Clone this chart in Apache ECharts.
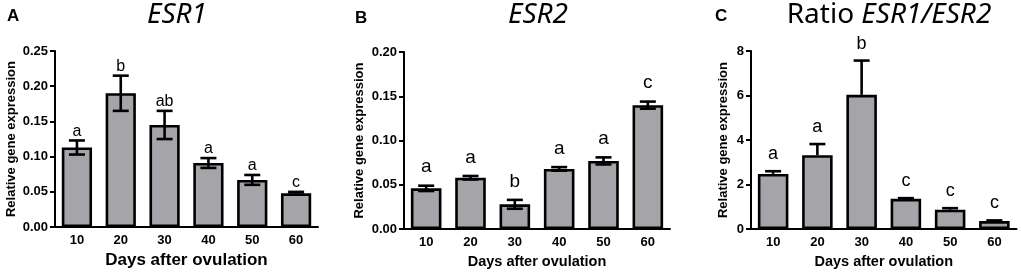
<!DOCTYPE html>
<html>
<head>
<meta charset="utf-8">
<script src="https://cdn.jsdelivr.net/npm/echarts@6/dist/echarts.min.js"></script>
<style>
  html, body { margin: 0; padding: 0; background: #ffffff; }
  #chart { width: 1021px; height: 274px; }
</style>
</head>
<body>
<div id="chart"></div>
<script>
// ---- data ----
var days = ['10', '20', '30', '40', '50', '60'];

var esr1Mean = [0.113, 0.190, 0.145, 0.091, 0.067, 0.048];
var esr1Sem  = [0.010, 0.025, 0.020, 0.007, 0.007, 0.002];
var esr1Letters = ['a', 'b', 'ab', 'a', 'a', 'c'];

var esr2Mean = [0.046, 0.058, 0.028, 0.068, 0.077, 0.140];
var esr2Sem  = [0.003, 0.002, 0.005, 0.002, 0.004, 0.004];
var esr2Letters = ['a', 'a', 'b', 'a', 'a', 'c'];

var ratioMean = [2.48, 3.32, 6.03, 1.36, 0.87, 0.36];
var ratioSem  = [0.12, 0.50, 1.54, 0.03, 0.07, 0.03];
var ratioLetters = ['a', 'a', 'b', 'c', 'c', 'c'];

var yMax = [0.25, 0.20, 8];
var yStep = [0.05, 0.05, 2];

// ---- chart ----
var chart = echarts.init(document.getElementById('chart'), null, { renderer: 'canvas' });

var grids = [
  { left: 55,  top: 51, width: 263, height: 176.5 },
  { left: 404, top: 52, width: 266, height: 178 },
  { left: 751, top: 51, width: 265.5, height: 178.3 }
];
var nameGaps = [37, 38, 21];
var xNameSize = [17, 14.5, 14.5];
var letterGap = [1, 9, 8];
var letterSize = [16, 19, 18];
var upperOnly = [false, false, true];
var decimals = [2, 2, 0];

var means = [esr1Mean, esr2Mean, ratioMean];
var sems = [esr1Sem, esr2Sem, ratioSem];
var letters = [esr1Letters, esr2Letters, ratioLetters];

var FONT = 'Liberation Sans, Arial, sans-serif';
var TFONT = 'Noto Sans, Open Sans, sans-serif';

function errRender(p) {
  return function (params, api) {
    var i = api.value(0);
    var m = api.value(1);
    var s = api.value(2);
    var top = api.coord([i, m + s]);
    var bot = api.coord([i, upperOnly[p] ? m : m - s]);
    var half = 8;
    var st = { stroke: '#000', lineWidth: 2.6 };
    var children = [
      { type: 'line', shape: { x1: top[0], y1: top[1], x2: bot[0], y2: bot[1] }, style: st },
      { type: 'line', shape: { x1: top[0] - half, y1: top[1], x2: top[0] + half, y2: top[1] }, style: st }
    ];
    if (!upperOnly[p]) {
      children.push({ type: 'line', shape: { x1: bot[0] - half, y1: bot[1], x2: bot[0] + half, y2: bot[1] }, style: st });
    }
    children.push({
      type: 'text',
      style: {
        text: letters[p][params.dataIndex],
        x: top[0], y: top[1] - letterGap[p],
        align: 'center', verticalAlign: 'bottom',
        fill: '#000', font: letterSize[p] + 'px ' + FONT
      }
    });
    return { type: 'group', children: children };
  };
}

var xAxes = [], yAxes = [], series = [];
for (var p = 0; p < 3; p++) {
  xAxes.push({
    type: 'category', gridIndex: p, data: days,
    name: 'Days after ovulation', nameLocation: 'middle', nameGap: 22,
    nameTextStyle: { fontFamily: FONT, fontSize: xNameSize[p], fontWeight: 'bold', color: '#000' },
    axisLine: { lineStyle: { color: '#000', width: 2 } },
    axisTick: { alignWithLabel: true, length: 5, lineStyle: { color: '#000', width: 2 } },
    axisLabel: { color: '#000', fontFamily: FONT, fontWeight: 'bold', fontSize: 13, margin: 7 }
  });
  (function (p) {
    yAxes.push({
      type: 'value', gridIndex: p, min: 0, max: yMax[p], interval: yStep[p],
      name: 'Relative gene expression', nameLocation: 'middle', nameGap: nameGaps[p],
      nameTextStyle: { fontFamily: FONT, fontSize: 13, fontWeight: 'bold', color: '#000' },
      axisLine: { show: true, lineStyle: { color: '#000', width: 2 } },
      axisTick: { show: true, length: 5, lineStyle: { color: '#000', width: 2 } },
      splitLine: { show: false },
      axisLabel: {
        color: '#000', fontFamily: FONT, fontWeight: 'bold', fontSize: 13, margin: 7,
        formatter: function (v) { return v.toFixed(decimals[p]); }
      }
    });
  })(p);
  series.push({
    type: 'bar', xAxisIndex: p, yAxisIndex: p, data: means[p],
    barCategoryGap: '31%',
    itemStyle: { color: '#a5a5a9', borderColor: '#000', borderWidth: 2.6 },
    silent: true, animation: false
  });
  series.push({
    type: 'custom', xAxisIndex: p, yAxisIndex: p,
    data: means[p].map(function (m, i) { return [i, m, sems[p][i]]; }),
    encode: { x: 0, y: 1 },
    renderItem: errRender(p), z: 5, silent: true, animation: false
  });
}

function panelStyle() { return { fontFamily: FONT, fontWeight: 'bold', fontSize: 17, color: '#000' }; }
var titles = [
  { text: 'A', left: 2, top: 3, textStyle: panelStyle() },
  { text: 'B', left: 350, top: 5, textStyle: panelStyle() },
  { text: 'C', left: 710, top: 3, textStyle: panelStyle() },
  { text: 'ESR1', left: 172, top: -4, textAlign: 'center',
    textStyle: { fontFamily: TFONT, fontStyle: 'italic', fontWeight: 'normal', fontSize: 28, color: '#000' } },
  { text: 'ESR2', left: 533, top: -4, textAlign: 'center',
    textStyle: { fontFamily: TFONT, fontStyle: 'italic', fontWeight: 'normal', fontSize: 28, color: '#000' } },
  { text: '{n|Ratio }{i|ESR1/ESR2}', left: 884, top: -4, textAlign: 'center',
    textStyle: {
      fontWeight: 'normal',
      rich: {
        n: { fontFamily: TFONT, fontWeight: 'normal', fontSize: 28, color: '#000' },
        i: { fontFamily: TFONT, fontStyle: 'italic', fontWeight: 'normal', fontSize: 28, color: '#000' }
      }
    } }
];

chart.setOption({
  animation: false,
  backgroundColor: '#ffffff',
  title: titles,
  grid: grids,
  xAxis: xAxes,
  yAxis: yAxes,
  series: series
});
</script>
</body>
</html>
